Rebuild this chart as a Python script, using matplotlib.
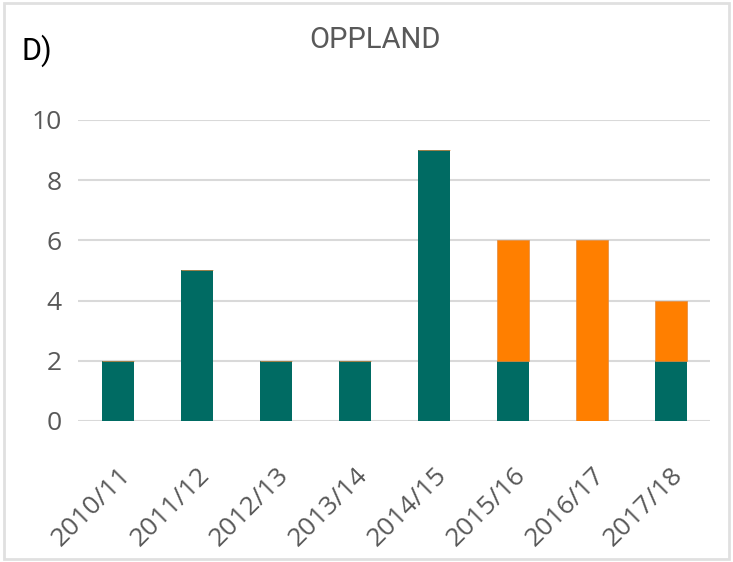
import numpy as np
import matplotlib.pyplot as plt
from matplotlib.patches import Rectangle

SEASONS = ['2010/11', '2011/12', '2012/13', '2013/14', '2014/15', '2015/16', '2016/17', '2017/18']
TEAL_VALS = [2, 5, 2, 2, 9, 2, 0, 2]
ORANGE_VALS = [0, 0, 0, 0, 0, 4, 6, 2]
YTICKS = [0, 2, 4, 6, 8, 10]

TEAL = '#006b63'
ORANGE = '#ff7f00'
GRAY_TXT = '#595959'
GRID = '#d9d9d9'

plt.rcParams['font.family'] = ['Open Sans', 'DejaVu Sans']

fig = plt.figure(figsize=(7.33, 5.62), dpi=100)
ax = fig.add_axes([0.107, 0.2509, 0.862, 0.5356])

x = np.arange(len(SEASONS))
w = 0.41
ax.bar(x, TEAL_VALS, w, color=TEAL, zorder=3)
ax.bar(x, ORANGE_VALS, w, bottom=TEAL_VALS, color=ORANGE,
       edgecolor='#e08a40', linewidth=0.5, zorder=3)

ax.set_xlim(-0.5, len(SEASONS) - 0.5)
ax.set_ylim(0, 10)
ax.set_yticks(YTICKS)
ax.grid(axis='y', color=GRID, linewidth=1.5, zorder=0)
for s in ax.spines.values():
    s.set_visible(False)

ax.set_xticks(x)
ax.set_xticklabels(SEASONS, rotation=45, ha='right', rotation_mode='anchor')
ax.tick_params(axis='x', length=0, pad=30, labelsize=19, labelcolor=GRAY_TXT)
ax.tick_params(axis='y', length=0, pad=12, labelsize=19, labelcolor=GRAY_TXT)

fig.text(0.511, 0.928, 'OPPLAND', ha='center', va='center', fontsize=21,
         color=GRAY_TXT, family=['Roboto', 'DejaVu Sans'])
fig.text(0.03, 0.91, 'D)', ha='left', va='center', fontsize=22,
         color='black', family=['Roboto', 'DejaVu Sans'])

fig.patches.append(Rectangle((0.006, 0.006), 0.988, 0.988, transform=fig.transFigure,
                             fill=False, edgecolor='#e0e0e0', linewidth=2))

plt.savefig('out.png', dpi=100)
